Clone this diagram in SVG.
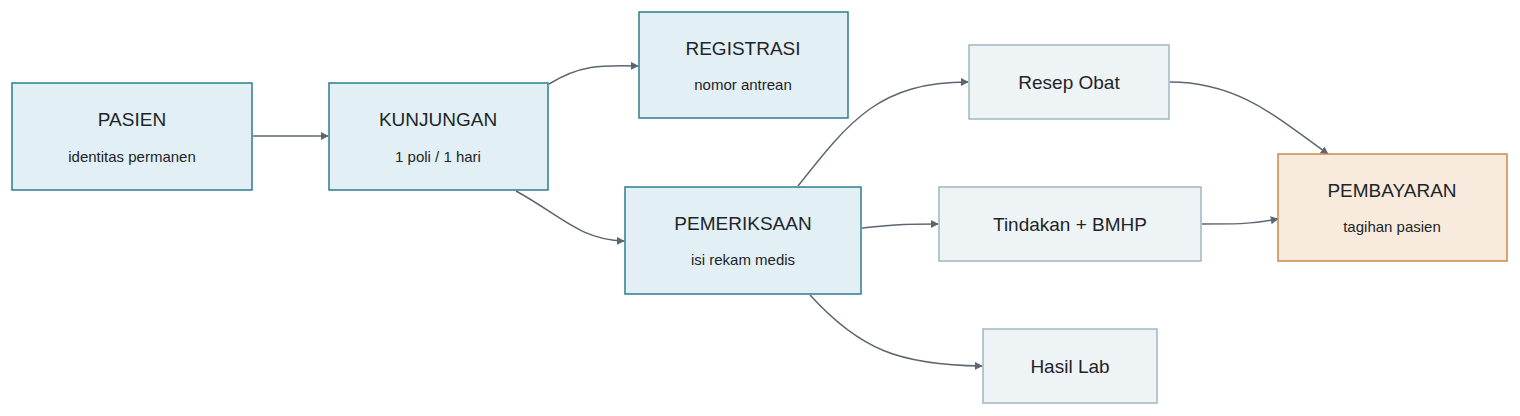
<svg xmlns="http://www.w3.org/2000/svg" width="1520" height="416" viewBox="0 0 1520 416">
<style>
.m rect{fill:#e2f0f5;stroke:#2e7d8f;stroke-width:1.5}
.g rect{fill:#eef3f6;stroke:#9fb6c1;stroke-width:1.5}
.o rect{fill:#f8ebde;stroke:#c98a4a;stroke-width:1.5}
text{font-family:"Helvetica","Liberation Sans",Arial,sans-serif;fill:#1f2428;text-anchor:middle}
.t{font-size:19px}
.s{font-size:15px}
.c path{fill:none;stroke:#5c6670;stroke-width:1.5;marker-end:url(#a)}
</style>
<defs><marker id="a" viewBox="0 0 10 10" refX="9" refY="5" markerWidth="8" markerHeight="8" orient="auto" markerUnits="userSpaceOnUse"><path d="M0,0L10,5L0,10z" fill="#5c6670"/></marker></defs>
<rect width="1520" height="416" fill="#fff"/>
<g class="c">
<path d="M253,136H328"/>
<path d="M549,84C580,65 600,65 638,66"/>
<path d="M516,191C560,215 580,240 624,241"/>
<path d="M798,186C850,120 880,82 968,82"/>
<path d="M862,228C900,224 910,224 938,224"/>
<path d="M810,295C860,350 900,365 982,366"/>
<path d="M1170,82C1240,82 1280,120 1328,154"/>
<path d="M1202,224C1240,224 1250,224 1278,219"/>
</g>
<g id="pasien" class="m"><rect x="12" y="83" width="240" height="107"/><text class="t" x="132" y="126">PASIEN</text><text class="s" x="132" y="162">identitas permanen</text></g>
<g id="kunjungan" class="m"><rect x="329" y="83" width="219" height="107"/><text class="t" x="438" y="126">KUNJUNGAN</text><text class="s" x="438" y="162">1 poli / 1 hari</text></g>
<g id="registrasi" class="m"><rect x="639" y="12" width="209" height="106"/><text class="t" x="743" y="55">REGISTRASI</text><text class="s" x="743" y="90">nomor antrean</text></g>
<g id="pemeriksaan" class="m"><rect x="625" y="187" width="236" height="107"/><text class="t" x="743" y="230">PEMERIKSAAN</text><text class="s" x="743" y="265">isi rekam medis</text></g>
<g id="resep" class="g"><rect x="969" y="45" width="200" height="74"/><text class="t" x="1069" y="89">Resep Obat</text></g>
<g id="tindakan" class="g"><rect x="939" y="187" width="262" height="74"/><text class="t" x="1070" y="231">Tindakan + BMHP</text></g>
<g id="lab" class="g"><rect x="983" y="329" width="174" height="74"/><text class="t" x="1070" y="373">Hasil Lab</text></g>
<g id="pembayaran" class="o"><rect x="1278" y="154" width="229" height="107"/><text class="t" x="1392" y="197">PEMBAYARAN</text><text class="s" x="1392" y="232">tagihan pasien</text></g>
</svg>
